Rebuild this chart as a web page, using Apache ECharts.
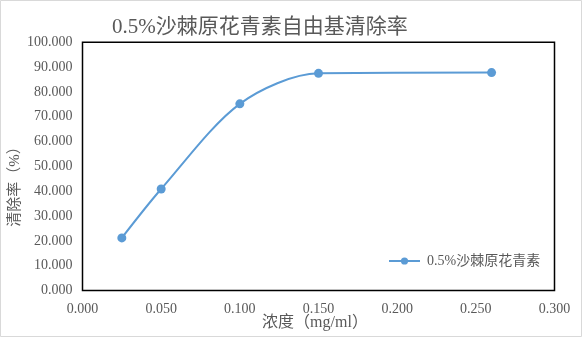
<!DOCTYPE html>
<html>
<head>
<meta charset="utf-8">
<script src="https://cdn.jsdelivr.net/npm/echarts@6/dist/echarts.min.js"></script>
<style>
html,body{margin:0;padding:0;background:#fff;}
#chart{width:582px;height:337px;}
</style>
</head>
<body>
<div id="chart"></div>
<script>
var titleText = '0.5%沙棘原花青素自由基清除率';
var seriesName = '0.5%沙棘原花青素';
var xName = '浓度（mg/ml）';
var yName = '清除率（%）';
var concentrations = [0.025, 0.05, 0.1, 0.15, 0.26];
var scavengingRates = [21.2, 40.9, 75.2, 87.5, 87.8];

var serif = 'Liberation Serif, "Noto Sans CJK SC", serif';
var gray = '#595959';
var chart = echarts.init(document.getElementById('chart'), null, {renderer: 'canvas'});
var points = concentrations.map(function (c, i) { return [c, scavengingRates[i]]; });

chart.setOption({
  animation: false,
  backgroundColor: '#fff',
  title: {
    text: titleText,
    left: 107,
    top: 12,
    textStyle: {fontFamily: serif, fontSize: 21, fontWeight: 'normal', color: gray}
  },
  legend: {
    data: [seriesName],
    left: 383,
    top: 249,
    itemWidth: 31,
    itemHeight: 9,
    textStyle: {fontFamily: serif, fontSize: 14, color: gray, padding: [0, 0, 0, 2]}
  },
  grid: {
    left: 82.5, right: 27.5, top: 42.3, bottom: 46.5,
    show: true, borderColor: '#000', borderWidth: 1.5, containLabel: false
  },
  xAxis: {
    type: 'value', min: 0, max: 0.3, interval: 0.05,
    axisLine: {show: false}, axisTick: {show: false}, splitLine: {show: false},
    axisLabel: {fontFamily: serif, fontSize: 14, color: gray, margin: 12,
      formatter: function (v) { return v.toFixed(3); }}
  },
  yAxis: {
    type: 'value', min: 0, max: 100, interval: 10,
    axisLine: {show: false}, axisTick: {show: false}, splitLine: {show: false},
    axisLabel: {fontFamily: serif, fontSize: 14, color: gray, margin: 10,
      formatter: function (v) { return v.toFixed(3); }}
  },
  graphic: [
    {type: 'rect', shape: {x: 0.5, y: 0.5, width: 581, height: 336}, style: {fill: 'none', stroke: '#d9d9d9', lineWidth: 1}, silent: true},
    {type: 'text', x: 315, y: 323, style: {text: xName, font: '16px ' + serif, fill: gray, align: 'center', verticalAlign: 'middle'}},
    {type: 'text', rotation: Math.PI / 2, x: 15, y: 183, style: {text: yName, font: '15px ' + serif, fill: gray, align: 'center', verticalAlign: 'middle'}}
  ],
  series: [{
    name: seriesName,
    type: 'line',
    data: points,
    smooth: 0.3,
    symbol: 'circle',
    symbolSize: 9,
    lineStyle: {color: '#5b9bd5', width: 2},
    itemStyle: {color: '#5b9bd5'}
  }]
});
</script>
</body>
</html>
